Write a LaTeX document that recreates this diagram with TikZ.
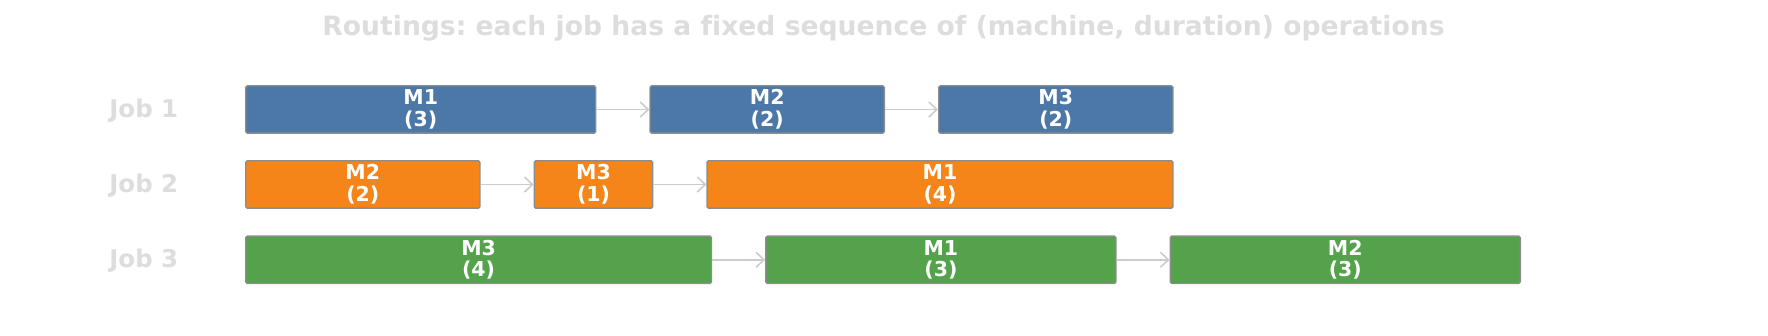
\documentclass[tikz,border=0pt]{standalone}
\usepackage{fontspec}
\setmainfont{DejaVu Sans}[Ligatures=NoCommon]
\usepackage{tikz}
\usetikzlibrary{arrows.meta,positioning}
\definecolor{jobblue}{HTML}{4C78A8}
\definecolor{joborange}{HTML}{F58518}
\definecolor{jobgreen}{HTML}{54A24B}
\definecolor{fadedgrey}{HTML}{DDDDDD}
\definecolor{edgegrey}{HTML}{8C8C8C}
\definecolor{flowgrey}{HTML}{CCCCCC}
\frenchspacing

\begin{document}
\begin{tikzpicture}[
  x=1pt, y=-1pt,
  node distance=53pt,
  opbox/.style={rectangle, draw=edgegrey, line width=1.3pt, rounded corners=1.5pt,
    minimum height=47.3pt, inner sep=0pt, align=center, text=white,
    font=\fontsize{20.5}{21.6}\selectfont\bfseries},
  dur/.style={minimum width=#1*115.8pt+2.7pt},
  joblabel/.style={anchor=base, text=fadedgrey, font=\fontsize{24.4}{28}\selectfont\bfseries},
  flow/.style={draw=flowgrey, line width=1.6pt, -{Straight Barb[length=8pt,width=15pt]}}
]
\useasboundingbox (0,0) rectangle (1768,336);

\node[joblabel, font=\fontsize{26.6}{30}\selectfont\bfseries] (title) at (883.5,36)
  {Routings: each job has a fixed sequence of (machine, duration) operations};

\node[joblabel] (job1) at (143.8,117.5) {Job 1};
\node[joblabel] (job2) at (143.8,192.5) {Job 2};
\node[joblabel] (job3) at (143.8,267.5) {Job 3};

% job 1
\node[opbox, dur=3, fill=jobblue, anchor=west] (j1a) at (245,109.5) {M1\\(3)};
\node[opbox, dur=2, fill=jobblue, right=of j1a] (j1b) {M2\\(2)};
\node[opbox, dur=2, fill=jobblue, right=of j1b] (j1c) {M3\\(2)};

% job 2
\node[opbox, dur=2, fill=joborange, anchor=west] (j2a) at (245,184.5) {M2\\(2)};
\node[opbox, dur=1, fill=joborange, right=of j2a] (j2b) {M3\\(1)};
\node[opbox, dur=4, fill=joborange, right=of j2b] (j2c) {M1\\(4)};

% job 3
\node[opbox, dur=4, fill=jobgreen, anchor=west] (j3a) at (245,259.8) {M3\\(4)};
\node[opbox, dur=3, fill=jobgreen, right=of j3a] (j3b) {M1\\(3)};
\node[opbox, dur=3, fill=jobgreen, right=of j3b] (j3c) {M2\\(3)};

\draw[flow] (j1a) -- (j1b);
\draw[flow] (j1b) -- (j1c);
\draw[flow] (j2a) -- (j2b);
\draw[flow] (j2b) -- (j2c);
\draw[flow] (j3a) -- (j3b);
\draw[flow] (j3b) -- (j3c);
\end{tikzpicture}
\end{document}
